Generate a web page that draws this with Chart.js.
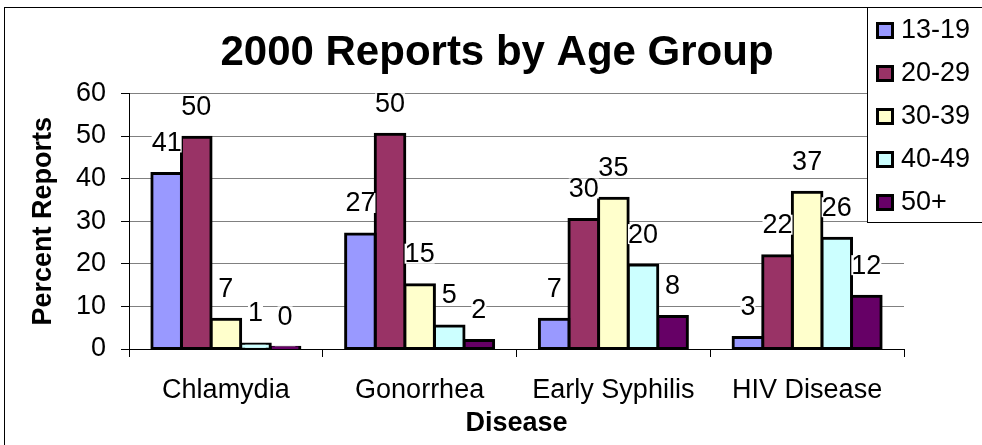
<!DOCTYPE html>
<html>
<head>
<meta charset="utf-8">
<title>2000 Reports by Age Group</title>
<script src="https://cdn.jsdelivr.net/npm/chart.js@4.4.1/dist/chart.umd.min.js"></script>
<style>
  html, body { margin: 0; padding: 0; background: #fff; }
  #wrap { width: 982px; height: 445px; }
</style>
</head>
<body>
<div id="wrap"><canvas id="chart" width="982" height="445"></canvas></div>
<script>
const categories = ['Chlamydia', 'Gonorrhea', 'Early Syphilis', 'HIV Disease']
const ageGroups = ['13-19', '20-29', '30-39', '40-49', '50+']
const age13to19 = [41.2, 27, 7, 2.7]
const age20to29 = [49.7, 50.4, 30.4, 21.9]
const age30to39 = [7, 15.1, 35.4, 36.8]
const age40to49 = [1.2, 5.4, 19.7, 26]
const age50plus = [0.4, 2, 7.6, 12.4]
const groupColors = ['#9999FF', '#993366', '#FFFFCC', '#CCFFFF', '#660066']
const yMin = 0
const yMax = 60
const yStep = 10

const FONT = '"Liberation Sans", Arial, sans-serif'
Chart.defaults.font.family = FONT
Chart.defaults.color = '#000'

const seriesValues = [age13to19, age20to29, age30to39, age40to49, age50plus]

// value labels above each bar (white box behind, like excel)
const barLabels = {
  id: 'barLabels',
  afterDatasetsDraw (chart) {
    const ctx = chart.ctx
    ctx.save()
    ctx.font = '27px ' + FONT
    ctx.textAlign = 'center'
    ctx.textBaseline = 'middle'
    chart.data.datasets.forEach((ds, i) => {
      chart.getDatasetMeta(i).data.forEach((bar, j) => {
        const text = String(Math.round(ds.data[j]))
        const w = ctx.measureText(text).width
        const y = bar.y - 31
        ctx.fillStyle = '#fff'
        ctx.fillRect(bar.x - w / 2, y - 10, w, 20)
        ctx.fillStyle = '#000'
        ctx.fillText(text, bar.x, y + 1)
      })
    })
    ctx.restore()
  }
}

// outer frame + boxed legend on the right
const frameAndLegend = {
  id: 'frameAndLegend',
  afterDraw (chart) {
    const ctx = chart.ctx
    ctx.save()
    ctx.lineWidth = 1
    ctx.strokeStyle = '#000'
    ctx.strokeRect(4.5, 7.5, 1000, 1000)

    ctx.fillStyle = '#fff'
    ctx.fillRect(867.5, 7.5, 120, 215)
    ctx.strokeRect(867.5, 7.5, 120, 215)

    ctx.font = '27px ' + FONT
    ctx.textAlign = 'left'
    ctx.textBaseline = 'middle'
    chart.data.datasets.forEach((ds, i) => {
      const cy = 30 + i * 43
      ctx.fillStyle = '#000'
      ctx.fillRect(876, cy - 8, 18, 17)
      ctx.fillStyle = ds.backgroundColor
      ctx.fillRect(879, cy - 5, 12, 11)
      ctx.fillStyle = '#000'
      ctx.fillText(ds.label, 901, cy + 1)
    })
    ctx.restore()
  }
}

new Chart(document.getElementById('chart'), {
  type: 'bar',
  data: {
    labels: categories,
    datasets: ageGroups.map((g, i) => ({
      label: g,
      data: seriesValues[i],
      backgroundColor: groupColors[i],
      borderColor: '#000',
      borderWidth: 3,
      borderSkipped: false,
      inflateAmount: 1.5,
      categoryPercentage: 0.764,
      barPercentage: 1
    }))
  },
  options: {
    responsive: false,
    animation: false,
    layout: { padding: { left: 12, right: 0, top: 0, bottom: 0 } },
    plugins: {
      legend: { display: false },
      tooltip: { enabled: false },
      title: {
        display: true,
        text: '2000 Reports by Age Group',
        color: '#000',
        font: { size: 42, weight: 'bold' },
        padding: { top: 28, bottom: 15 }
      }
    },
    scales: {
      x: {
        grid: { offset: true, drawOnChartArea: false, tickLength: 8, tickColor: '#000' },
        border: { color: '#000', width: 1 },
        ticks: { font: { size: 27 }, padding: 17, maxRotation: 0 },
        title: { display: true, text: 'Disease', font: { size: 27, weight: 'bold' }, padding: { top: 0, bottom: 5 } },
        afterFit (scale) { scale.height = 96 }
      },
      y: {
        min: yMin,
        max: yMax,
        ticks: { stepSize: yStep, font: { size: 27 }, padding: 15 },
        grid: { color: '#808080', tickLength: 8, tickColor: '#000' },
        border: { color: '#000', width: 1 },
        title: { display: true, text: 'Percent Reports', font: { size: 27, weight: 'bold' }, padding: { top: 15, bottom: 0 } },
        afterFit (scale) { scale.width = 117 }
      },
      // empty right-hand axis only reserves the room the legend sits in
      yRight: {
        position: 'right',
        min: yMin,
        max: yMax,
        ticks: { display: false },
        grid: { display: false },
        border: { display: false },
        afterFit (scale) { scale.width = 78 }
      }
    }
  },
  plugins: [barLabels, frameAndLegend]
})
</script>
</body>
</html>
